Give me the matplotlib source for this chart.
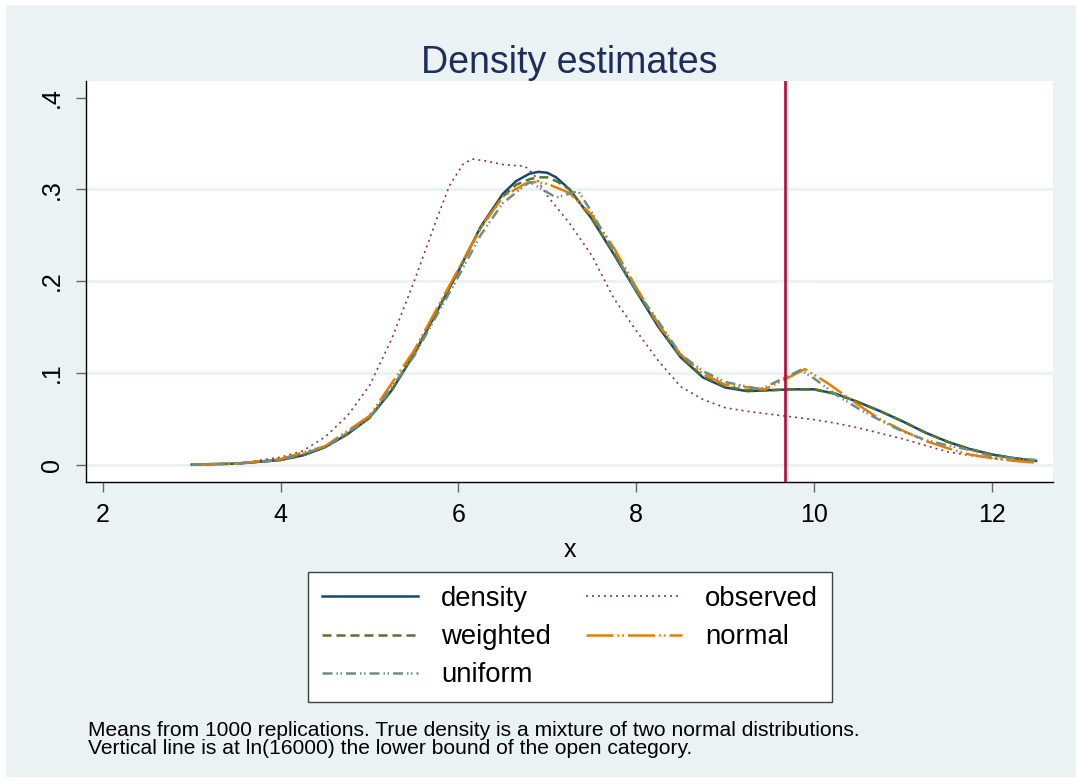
import matplotlib
matplotlib.use("Agg")
import matplotlib.pyplot as plt
from matplotlib.patches import Rectangle

# ---------------- data ----------------
x_grid = [3.0, 3.5, 4.0, 4.25, 4.5, 4.75, 5.0, 5.25, 5.5, 5.75, 6.0, 6.25, 6.5,
          6.65, 6.8, 6.9, 7.0, 7.1, 7.25, 7.5, 7.75, 8.0, 8.25, 8.5, 8.75,
          9.0, 9.25, 9.5, 9.75, 10.0, 10.25, 10.5, 10.75, 11.0, 11.25, 11.5,
          11.75, 12.0, 12.25, 12.5]
density = [0.000, 0.001, 0.005, 0.010, 0.019, 0.033, 0.051, 0.081, 0.120,
           0.165, 0.211, 0.259, 0.295, 0.309, 0.317, 0.319, 0.318, 0.313,
           0.300, 0.268, 0.229, 0.189, 0.150, 0.117, 0.095, 0.084, 0.080,
           0.081, 0.082, 0.082, 0.077, 0.068, 0.058, 0.047, 0.035, 0.025,
           0.017, 0.011, 0.007, 0.004]
weighted = [0.000, 0.001, 0.005, 0.010, 0.019, 0.033, 0.051, 0.081, 0.121,
            0.166, 0.211, 0.258, 0.292, 0.305, 0.311, 0.313, 0.313, 0.309,
            0.300, 0.268, 0.230, 0.190, 0.151, 0.118, 0.096, 0.085, 0.081,
            0.081, 0.082, 0.082, 0.077, 0.068, 0.058, 0.047, 0.035, 0.025,
            0.017, 0.011, 0.007, 0.004]

x_observed = [3.5, 4.0, 4.25, 4.5, 4.75, 5.0, 5.25, 5.5, 5.75, 5.9, 6.05,
              6.15, 6.3, 6.5, 6.75, 6.85, 7.0, 7.25, 7.5, 7.75, 8.0, 8.25,
              8.5, 8.75, 9.0, 9.25, 9.5, 9.75, 10.0, 10.25, 10.5, 10.75,
              11.0, 11.25, 11.5, 11.75, 12.0, 12.25, 12.4]
observed = [0.001, 0.008, 0.015, 0.030, 0.053, 0.086, 0.137, 0.199, 0.266,
            0.304, 0.327, 0.333, 0.331, 0.327, 0.325, 0.316, 0.293, 0.263,
            0.228, 0.181, 0.146, 0.113, 0.085, 0.071, 0.062, 0.058, 0.055,
            0.052, 0.049, 0.045, 0.040, 0.034, 0.028, 0.021, 0.014, 0.010,
            0.007, 0.004, 0.003]

x_normal = [3.0, 3.5, 4.0, 4.5, 5.0, 5.5, 6.0, 6.25, 6.5, 6.75, 6.85, 7.0,
            7.25, 7.5, 7.75, 8.0, 8.25, 8.5, 8.75, 9.0, 9.45, 9.9, 10.15,
            10.5, 10.75, 11.0, 11.25, 11.5, 11.75, 12.0, 12.25, 12.5]
normal = [0.000, 0.001, 0.006, 0.020, 0.053, 0.124, 0.213, 0.258, 0.292,
          0.306, 0.308, 0.306, 0.296, 0.272, 0.236, 0.193, 0.153, 0.120,
          0.099, 0.087, 0.082, 0.104, 0.089, 0.065, 0.049, 0.037, 0.026,
          0.018, 0.011, 0.007, 0.004, 0.002]

x_uniform = [3.0, 3.5, 4.0, 4.5, 5.0, 5.5, 6.0, 6.25, 6.5, 6.8, 7.1, 7.35,
             7.5, 7.75, 8.0, 8.25, 8.5, 8.75, 9.0, 9.4, 9.85, 10.0, 10.25,
             10.5, 10.75, 11.0, 11.25, 11.5, 11.75, 12.0, 12.25, 12.5]
uniform = [0.000, 0.001, 0.005, 0.019, 0.051, 0.118, 0.205, 0.250, 0.285,
           0.308, 0.291, 0.298, 0.275, 0.232, 0.190, 0.156, 0.120, 0.102,
           0.090, 0.082, 0.103, 0.094, 0.076, 0.061, 0.048, 0.036, 0.027,
           0.021, 0.016, 0.009, 0.007, 0.005]

vline_x = 9.68  # ln(16000)
x_ticks = [2, 4, 6, 8, 10, 12]
y_ticks = [0, 0.1, 0.2, 0.3, 0.4]
y_ticklabels = ["0", ".1", ".2", ".3", ".4"]
title = "Density estimates"
xlabel = "x"
note_lines = ["Means from 1000 replications. True density is a mixture of two normal distributions.",
              "Vertical line is at ln(16000) the lower bound of the open category."]

# ---------------- styling ----------------
plt.rcParams['font.family'] = ['Liberation Sans', 'DejaVu Sans']
BG = '#EAF2F3'
W, H = 1076, 783
fig = plt.figure(figsize=(W / 100, H / 100), dpi=100, facecolor='white')
fig.patches.append(Rectangle((6 / W, 6 / H), 1 - 6 / W, 1 - 11 / H,
                             transform=fig.transFigure, facecolor=BG,
                             edgecolor='none', zorder=-10))

ax = fig.add_axes([86 / W, 1 - 482 / H, (1053 - 86) / W, (482 - 81) / H])
ax.set_facecolor('white')
ax.set_xlim(1.81, 12.69)
ax.set_ylim(-0.019, 0.418)

for yv in [0, 0.1, 0.2, 0.3]:
    ax.axhline(yv, color=BG, lw=2.2, zorder=0)

lw = 1.8
ax.plot(x_grid, density, color='#1a476f', lw=lw, ls='-', label='density', zorder=3)
ax.plot(x_observed, observed, color='#90353b', lw=1.2, ls=(0, (1.2, 2.4)),
        label='observed', zorder=3)
ax.plot(x_grid, weighted, color='#55752f', lw=lw, ls=(0, (3.6, 2.0)),
        label='weighted', zorder=4)
ax.plot(x_normal, normal, color='#e37e00', lw=lw,
        ls=(0, (10.8, 1.6, 0.7, 1.2, 0.7, 1.6)), label='normal', zorder=4)
ax.plot(x_uniform, uniform, color='#6e8e84', lw=lw,
        ls=(0, (4.0, 1.6, 0.6, 1.0, 0.6, 1.6)), label='uniform', zorder=4)
ax.axvline(vline_x, color='#c10534', lw=1.9, zorder=5)

for s in ['top', 'right']:
    ax.spines[s].set_visible(False)
for s in ['left', 'bottom']:
    ax.spines[s].set_color('black')
    ax.spines[s].set_linewidth(1.0)

ax.set_xticks(x_ticks)
ax.set_xticklabels([str(t) for t in x_ticks])
ax.set_yticks(y_ticks)
ax.set_yticklabels(y_ticklabels, rotation=90, va='center')
ax.tick_params(axis='both', length=7, width=1.0, color='#666666',
               labelsize=18, labelcolor='black')
ax.tick_params(axis='x', pad=8)
ax.tick_params(axis='y', pad=9)

ax.set_xlabel(xlabel, fontsize=18, labelpad=8)
fig.text(569.5 / W, 1 - 63 / H, title, ha='center', va='center',
         fontsize=27, color='#1e2d5a')

handles, labels = ax.get_legend_handles_labels()
order = ['density', 'weighted', 'uniform', 'observed', 'normal']
hmap = dict(zip(labels, handles))
leg = fig.legend([hmap[k] for k in order], order, ncol=2,
                 loc='upper left',
                 bbox_to_anchor=(308 / W, 1 - 572 / H, (832 - 308) / W, 0.0),
                 mode='expand', fontsize=19.8, frameon=True, fancybox=False,
                 edgecolor='#404040', facecolor='white', framealpha=1,
                 handlelength=3.5, handletextpad=0.85, columnspacing=1.0,
                 labelspacing=0.45, borderpad=0.5, borderaxespad=0)
leg.get_frame().set_linewidth(1.0)

fig.text(88 / W, 1 - 731 / H, note_lines[0], ha='left', va='center',
         fontsize=15.1, color='black')
fig.text(88 / W, 1 - 749 / H, note_lines[1], ha='left', va='center',
         fontsize=15.1, color='black')

fig.savefig('out.png', dpi=100, facecolor=fig.get_facecolor())
